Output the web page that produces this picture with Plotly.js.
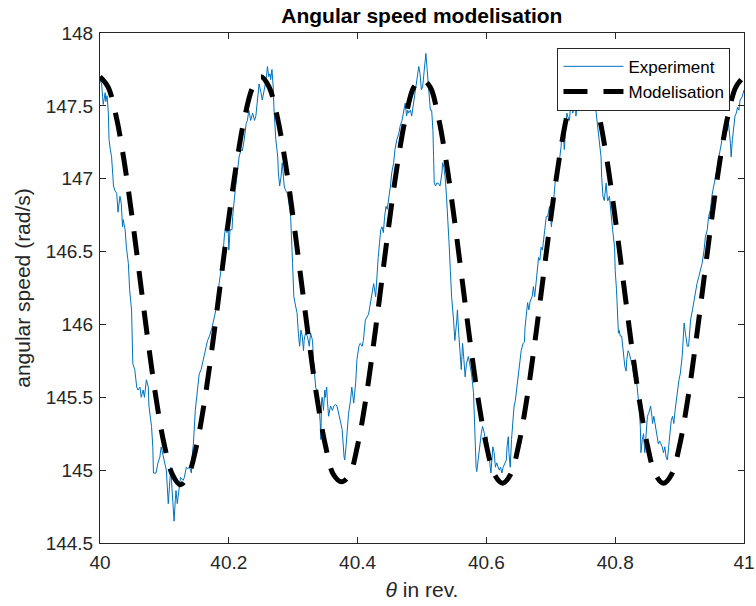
<!DOCTYPE html>
<html>
<head>
<meta charset="utf-8">
<script src="https://cdn.plot.ly/plotly-3.0.1.min.js"></script>
<style>html,body{margin:0;padding:0;background:#fff;}#chart{width:756px;height:606px;}</style>
</head>
<body>
<div id="chart"></div>
<script>
const chartTitle = "Angular speed modelisation";
const xTitle = "<i>θ</i> in rev.";
const yTitle = "angular speed (rad/s)";
const seriesNames = ["Experiment", "Modelisation"];

const expX = [40.000,40.0025,40.005,40.008,40.009,40.011,40.013,40.014,40.016,40.018,40.021,40.023,40.026,40.028,40.031,40.033,40.035,40.036,40.039,40.041,40.044,40.046,40.049,
40.050,40.051,40.054,40.057,40.059,40.062,40.064,40.067,40.069,40.072,40.075,40.076,40.080,40.082,40.083,40.087,40.090,40.093,40.095,40.098,40.100,40.103,40.106,40.108,40.110,40.111,40.113,40.115,40.117,40.118,40.120,40.123,40.125,40.129,40.131,40.134,40.136,40.139,40.142,40.143,40.145,40.148,40.150,40.152,40.154,40.157,40.160,40.162,40.165,40.167,40.170,40.174,40.178,40.180,
40.185,40.188,40.191,40.193,40.195,40.197,40.199,40.200,40.202,40.205,40.206,40.209,40.211,40.214,40.216,40.219,40.221,40.224,40.227,40.229,40.231,
40.232,40.234,40.237,40.240,40.242,40.245,40.247,40.250,40.252,40.255,40.258,40.260,40.262,40.264,40.265,40.267,40.269,40.270,40.273,40.276,40.277,40.279,40.281,40.283,40.285,40.286,40.288,40.291,40.294,40.296,40.299,40.301,
40.304,40.306,40.308,40.310,40.312,40.314,40.316,40.317,40.319,40.322,40.325,40.327,40.330,40.332,40.335,40.337,40.340,40.342,40.343,40.344,40.345,40.347,40.349,40.350,40.352,40.353,40.355,40.358,40.361,40.363,40.366,40.368,40.371,40.373,40.376,40.379,40.380,40.382,40.384,40.386,40.389,40.391,40.394,40.397,40.399,40.402,40.404,40.407,40.409,40.412,40.417,40.420,
40.423,40.425,40.428,40.430,40.432,40.434,40.436,40.438,40.440,40.442,40.444,40.446,40.448,40.451,40.453,40.456,40.458,40.461,40.464,40.466,40.469,40.471,40.474,40.476,40.478,
40.479,40.482,40.484,40.487,40.489,40.492,40.495,40.497,40.499,40.501,40.503,40.505,40.506,40.508,40.510,40.512,40.513,40.515,40.517,40.518,40.519,40.521,40.523,40.525,40.528,40.531,40.532,40.534,40.536,40.538,40.540,40.542,40.544,40.546,
40.549,40.550,40.551,40.554,40.555,40.557,40.559,40.561,40.562,40.563,40.565,40.567,40.569,40.572,40.574,40.577,40.580,40.581,40.582,40.584,40.585,40.587,40.590,40.592,40.594,40.597,40.599,40.601,40.603,40.604,40.606,40.607,40.609,40.610,40.612,40.614,40.616,40.618,40.620,40.622,40.624,40.626,40.629,40.631,40.632,40.634,40.635,40.637,40.639,40.641,40.643,40.645,40.647,40.649,40.652,40.654,40.657,40.659,40.660,40.662,40.664,40.666,40.668,
40.671,40.673,40.675,40.677,40.679,40.681,40.683,40.685,40.687,40.689,40.691,40.693,40.695,40.698,40.701,40.703,40.706,40.708,40.711,40.713,40.716,40.717,40.719,40.721,40.722,40.724,40.725,
40.726,40.729,40.731,40.733,40.734,40.736,40.738,40.739,40.741,40.743,40.747,40.751,40.755,40.758,40.761,40.764,40.765,40.768,40.770,40.773,40.775,40.778,40.779,40.781,40.783,40.785,40.786,40.788,40.789,40.791,40.793,40.796,40.799,40.800,40.802,
40.803,40.804,40.805,40.806,40.808,40.810,40.811,40.813,40.815,40.817,40.818,40.820,40.822,40.824,40.827,40.829,40.831,40.833,40.836,40.837,40.839,40.840,40.842,40.844,40.846,40.848,40.850,40.852,40.854,40.855,40.857,40.858,40.860,40.862,40.864,40.867,40.869,40.871,40.873,40.875,40.877,40.879,40.881,40.883,40.885,40.887,40.889,40.891,40.893,40.895,40.897,40.899,40.901,40.904,40.907,40.909,40.912,40.914,40.917,40.920,
40.925,40.927,40.930,40.932,40.935,40.938,40.940,40.943,40.945,40.948,40.950,40.953,40.956,40.958,40.961,40.963,40.966,40.968,40.971,40.974,40.976,40.979,40.980,40.982,40.984,40.986,40.988,40.990,40.992,40.994,40.997,41.000];

const expY = [147.68,147.65,147.51,147.59,147.53,147.57,147.45,147.27,147.20,147.15,146.95,146.92,146.90,146.77,146.88,146.83,146.67,146.72,146.65,146.53,146.42,146.24,146.10,
145.94,145.73,145.69,145.57,145.55,145.57,145.50,145.55,145.50,145.62,145.57,145.44,145.30,145.16,144.98,144.98,145.05,145.09,145.16,145.09,145.07,145.00,144.77,144.89,145.02,144.93,144.82,144.65,144.80,144.86,144.77,144.91,144.95,144.93,144.95,145.02,145.01,145.02,144.98,145.09,145.18,145.41,145.50,145.55,145.66,145.69,145.76,145.78,145.85,145.89,145.92,145.98,146.05,146.10,
146.28,146.37,146.48,146.60,146.67,146.63,146.65,146.51,146.65,146.65,146.74,146.88,146.95,147.06,147.15,147.20,147.19,147.27,147.38,147.40,147.47,
147.45,147.40,147.45,147.40,147.43,147.56,147.65,147.59,147.54,147.61,147.68,147.77,147.70,147.72,147.68,147.75,147.63,147.49,147.27,147.15,147.04,146.95,147.01,147.11,147.01,146.95,146.92,146.90,146.81,146.74,146.42,146.19,
146.12,146.08,145.94,145.85,145.96,145.92,145.82,145.89,145.94,145.92,145.85,145.94,145.89,145.71,145.57,145.53,145.46,145.32,145.21,145.48,145.50,145.41,145.55,145.50,145.57,145.48,145.37,145.44,145.41,145.44,145.45,145.44,145.37,145.34,145.28,145.09,145.07,145.16,145.32,145.39,145.48,145.57,145.46,145.60,145.76,145.85,145.87,145.85,145.89,146.03,146.07,146.15,
146.24,146.28,146.19,146.37,146.46,146.56,146.65,146.67,146.63,146.74,146.81,146.79,146.85,146.95,147.04,147.11,147.20,147.27,147.31,147.36,147.40,147.45,147.52,147.43,147.47,
147.45,147.47,147.43,147.52,147.56,147.65,147.77,147.72,147.61,147.63,147.72,147.77,147.86,147.75,147.65,147.56,147.47,147.47,147.33,147.15,146.97,146.95,146.97,146.97,146.95,147.04,147.11,147.08,147.01,146.88,146.74,146.56,146.37,146.19,
146.03,145.92,145.89,146.03,146.10,145.94,145.80,145.69,145.78,145.87,145.76,145.64,145.73,145.78,145.73,145.66,145.53,145.37,145.18,145.02,144.99,145.07,145.16,145.25,145.30,145.25,145.18,145.23,145.16,145.09,145.02,144.98,145.09,145.16,145.12,145.02,145.05,145.02,145.00,145.02,144.98,145.02,145.05,145.07,145.16,145.23,145.12,145.02,145.21,145.34,145.44,145.48,145.55,145.62,145.71,145.82,145.87,145.88,145.98,146.10,146.15,146.10,146.16,
146.19,146.26,146.19,146.28,146.37,146.46,146.44,146.53,146.51,146.60,146.65,146.74,146.74,146.81,146.67,146.79,146.97,147.04,147.06,147.11,147.22,147.31,147.33,147.20,147.27,147.43,147.45,
147.43,147.40,147.52,147.56,147.45,147.49,147.54,147.43,147.52,147.59,147.68,147.75,147.70,147.77,147.65,147.59,147.53,147.52,147.47,147.36,147.27,147.15,147.01,146.88,146.85,146.92,146.97,146.85,146.85,146.88,146.76,146.65,146.53,146.37,146.24,
146.12,146.01,145.94,145.96,145.92,145.92,145.87,145.82,145.71,145.68,145.76,145.82,145.80,145.76,145.71,145.64,145.66,145.62,145.50,145.44,145.30,145.12,145.21,145.25,145.12,145.25,145.37,145.39,145.44,145.44,145.37,145.32,145.37,145.32,145.25,145.18,145.20,145.18,145.16,145.12,145.16,145.09,145.07,145.16,145.25,145.34,145.37,145.32,145.41,145.50,145.55,145.62,145.66,145.78,146.01,145.94,145.85,145.85,146.03,146.10,
146.24,146.28,146.33,146.37,146.42,146.51,146.60,146.65,146.74,146.79,146.88,146.95,147.01,147.06,147.15,147.20,147.27,147.29,147.36,147.33,147.38,147.24,147.15,147.27,147.36,147.43,147.45,147.49,147.47,147.54,147.56,147.61];

const modelX = [40,40.0125,40.025,40.0375,40.05,40.0625,40.075,40.0875,40.1,40.1125,40.125,40.1375,40.15,40.1625,40.175,40.1875,40.2,40.2125,40.225,40.2375,
40.25,40.2625,40.275,40.2875,40.3,40.3125,40.325,40.3375,40.35,40.3625,40.375,40.3875,40.4,40.4125,40.425,40.4375,40.45,40.4625,40.475,40.4875,
40.5,40.5125,40.525,40.5375,40.55,40.5625,40.575,40.5875,40.6,40.6125,40.625,40.6375,40.65,40.6625,40.675,40.6875,40.7,40.7125,40.725,40.7375,
40.75,40.7625,40.775,40.7875,40.8,40.8125,40.825,40.8375,40.85,40.8625,40.875,40.8875,40.9,40.9125,40.925,40.9375,40.95,40.9625,40.975,40.9875,41];

const modelY = [147.70,147.63,147.43,147.12,146.73,146.30,145.87,145.48,145.17,144.97,144.90,144.97,145.17,145.48,145.87,146.30,146.73,147.12,147.43,147.63,
147.70,147.63,147.43,147.12,146.73,146.30,145.87,145.48,145.17,144.97,144.92,144.97,145.17,145.48,145.87,146.30,146.73,147.12,147.43,147.63,
147.68,147.63,147.43,147.12,146.73,146.30,145.87,145.48,145.17,144.97,144.91,144.97,145.17,145.48,145.87,146.30,146.73,147.12,147.43,147.63,
147.70,147.63,147.43,147.12,146.73,146.30,145.87,145.48,145.17,144.97,144.91,144.97,145.17,145.48,145.87,146.30,146.73,147.12,147.43,147.63,147.70];

const FONT = "Liberation Sans, Arial, Helvetica, sans-serif";
const INK = "#262626";

const traces = [
  {x: expX, y: expY, type: "scatter", mode: "lines", name: seriesNames[0],
   line: {color: "#0072BD", width: 1}},
  {x: modelX, y: modelY, type: "scatter", mode: "lines", name: seriesNames[1],
   line: {color: "#000000", width: 5, dash: "24px,16px", shape: "spline"}}
];

const axisCommon = {
  showgrid: false, zeroline: false, showline: true, mirror: "ticks",
  linecolor: INK, linewidth: 1, ticks: "inside", ticklen: 6, tickcolor: INK,
  ticklabelstandoff: 2, ticklabeloverflow: "allow",
  tickfont: {family: FONT, size: 19, color: INK}
};

const layout = {
  width: 756, height: 606,
  margin: {l: 100, r: 12, t: 33, b: 63},
  paper_bgcolor: "#ffffff", plot_bgcolor: "#ffffff",
  title: {text: "<b>" + chartTitle + "</b>", x: 0.558, xanchor: "center", y: 0.974, yanchor: "middle",
          font: {family: FONT, size: 21, color: "#000000"}},
  xaxis: Object.assign({}, axisCommon, {range: [40, 41], tickmode: "linear", tick0: 40, dtick: 0.2,
          title: {text: xTitle, font: {family: FONT, size: 21, color: INK}, standoff: 10}}),
  yaxis: Object.assign({}, axisCommon, {range: [144.5, 148], tickmode: "linear", tick0: 144.5, dtick: 0.5,
          title: {text: yTitle, font: {family: FONT, size: 21, color: INK}, standoff: 9}}),
  showlegend: true,
  legend: {x: 0.979, xanchor: "right", y: 0.971, yanchor: "top", bgcolor: "#ffffff",
           bordercolor: INK, borderwidth: 1, font: {family: FONT, size: 17, color: "#000000"},
           tracegroupgap: 0, itemwidth: 60}
};

Plotly.newPlot("chart", traces, layout, {displayModeBar: false, staticPlot: true});
</script>
</body>
</html>
